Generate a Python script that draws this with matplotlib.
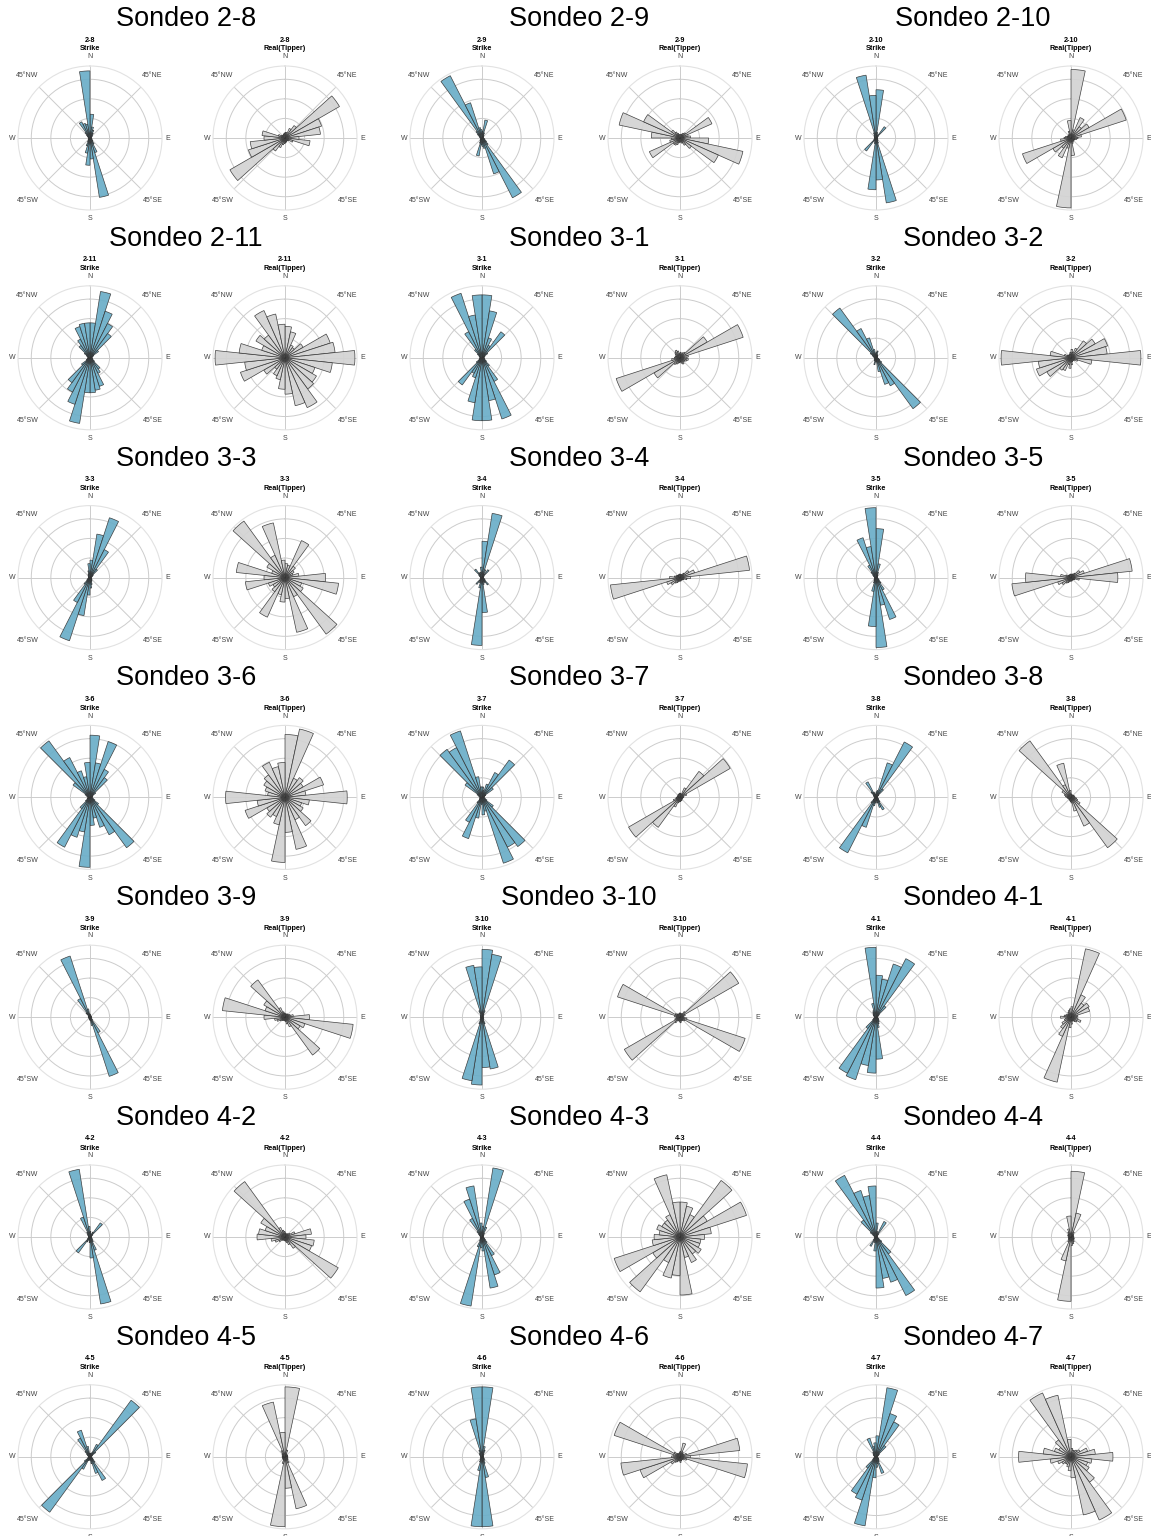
import numpy as np
import matplotlib
matplotlib.use("Agg")
import matplotlib.pyplot as plt

plt.rcParams['font.family'] = ['Liberation Sans', 'DejaVu Sans']

# ---------------- data ----------------
soundings = ["2-8", "2-9", "2-10", "2-11", "3-1", "3-2", "3-3", "3-4", "3-5",
             "3-6", "3-7", "3-8", "3-9", "3-10", "4-1", "4-2", "4-3", "4-4",
             "4-5", "4-6", "4-7"]
direction_angles = [0, 45, 90, 135, 180, 225, 270, 315]
direction_labels = ['N', '45°NE', 'E', '45°SE', 'S', '45°SW', 'W', '45°NW']

# Strike roses: 40 bins of 9 deg starting at N (relative length, outer circle ~1)
S_2_8 = [.34, .16, .12, .08, .05, .04, .03, .02, .02, .02,
         .02, .02, .03, .03, .04, .06, .10, .22, .86, .30,
         .39, .22, .12, .06, .04, .03, .02, .02, .02, .02,
         .02, .02, .03, .04, .06, .10, .26, .22, .20, .96]
S_2_9 = [.10, .26, .08, .05, .04, .03, .02, .02, .02, .02,
         .02, .03, .04, .05, .08, .12, .96, .54, .15, .12,
         .10, .26, .08, .05, .04, .03, .02, .02, .02, .02,
         .02, .03, .04, .05, .08, .12, 1.0, .53, .15, .12]
S_2_10 = [.69, .08, .05, .04, .20, .04, .03, .02, .02, .02,
          .02, .02, .02, .03, .03, .04, .05, .08, .94, .60,
          .74, .08, .05, .04, .23, .04, .03, .02, .02, .02,
          .02, .02, .02, .03, .03, .04, .05, .08, .91, .61]
S_2_11 = [.50, .96, .70, .55, .43, .15, .06, .04, .03, .03,
          .03, .03, .04, .05, .08, .20, .25, .43, .47, .50,
          .50, .95, .70, .55, .44, .15, .06, .04, .03, .03,
          .03, .03, .04, .06, .10, .22, .30, .47, .50, .50]
S_3_1 = [.90, .68, .30, .20, .46, .10, .05, .04, .03, .03,
         .03, .03, .04, .05, .08, .15, .38, .92, .62, .90,
         .90, .65, .30, .25, .48, .10, .05, .04, .03, .03,
         .03, .03, .04, .05, .08, .15, .42, .97, .62, .90]
S_3_2 = [.08, .10, .05, .04, .03, .03, .02, .02, .02, .02,
         .02, .03, .04, .06, .10, .90, .45, .40, .20, .06,
         .06, .10, .05, .04, .03, .03, .02, .02, .02, .02,
         .02, .03, .04, .06, .10, .88, .47, .30, .12, .06]
S_3_3 = [.25, .63, .90, .45, .15, .06, .04, .03, .02, .02,
         .02, .02, .02, .03, .03, .04, .05, .06, .10, .15,
         .25, .55, .95, .40, .12, .06, .04, .03, .02, .02,
         .02, .02, .02, .03, .03, .04, .05, .06, .10, .20]
S_3_4 = [.52, .93, .12, .06, .14, .04, .03, .02, .02, .02,
         .02, .02, .03, .04, .06, .13, .08, .06, .10, .50,
         .97, .15, .08, .06, .12, .03, .02, .02, .02, .02,
         .02, .02, .03, .04, .06, .15, .08, .06, .08, .15]
S_3_5 = [.70, .20, .08, .05, .04, .03, .02, .02, .02, .02,
         .02, .02, .03, .04, .06, .10, .20, .63, .40, 1.0,
         .70, .20, .08, .05, .04, .03, .02, .02, .02, .02,
         .02, .02, .03, .04, .06, .10, .20, .60, .45, 1.0]
S_3_6 = [.89, .50, .84, .45, .35, .10, .05, .04, .03, .03,
         .03, .04, .05, .08, .15, .89, .60, .45, .30, .40,
         1.0, .50, .60, .80, .20, .08, .05, .04, .03, .03,
         .03, .04, .05, .08, .30, 1.0, .64, .40, .30, .50]
S_3_7 = [.15, .10, .20, .40, .66, .20, .06, .04, .03, .03,
         .03, .04, .05, .08, .20, .87, .80, .99, .20, .25,
         .10, .30, .62, .40, .10, .05, .04, .03, .03, .03,
         .03, .04, .05, .08, .30, .85, .80, 1.0, .30, .15]
S_3_8 = [.08, .10, .52, .89, .15, .05, .03, .02, .02, .02,
         .02, .02, .03, .04, .05, .08, .20, .15, .08, .05,
         .08, .12, .45, .89, .10, .05, .03, .02, .02, .02,
         .02, .02, .03, .04, .05, .10, .25, .08, .05, .05]
S_3_9 = [.04, .03, .03, .02, .02, .02, .02, .02, .02, .02,
         .02, .02, .02, .03, .03, .05, .25, .89, .12, .05,
         .04, .03, .03, .02, .02, .02, .02, .02, .02, .02,
         .02, .02, .02, .03, .03, .08, .30, .92, .12, .05]
S_3_10 = [.97, .91, .10, .05, .03, .02, .02, .02, .02, .02,
          .02, .02, .02, .02, .03, .03, .04, .10, .75, .72,
          .97, .92, .10, .05, .03, .02, .02, .02, .02, .02,
          .02, .02, .02, .02, .03, .03, .04, .10, .75, .72]
S_4_1 = [.60, .55, .80, .94, .20, .06, .04, .03, .02, .02,
         .02, .02, .03, .04, .05, .06, .08, .10, .15, .60,
         .80, .70, .94, .90, .20, .06, .04, .03, .02, .02,
         .02, .02, .03, .04, .05, .06, .08, .10, .20, 1.0]
S_4_2 = [.08, .05, .04, .08, .25, .05, .03, .02, .02, .02,
         .02, .02, .02, .03, .04, .05, .08, .20, .97, .30,
         .08, .05, .04, .08, .28, .05, .03, .02, .02, .02,
         .02, .02, .02, .03, .04, .05, .08, .30, .98, .15]
S_4_3 = [.15, 1.0, .15, .06, .04, .03, .02, .02, .02, .02,
         .02, .02, .03, .04, .06, .10, .30, .57, .74, .20,
         .15, 1.0, .15, .06, .04, .03, .02, .02, .02, .02,
         .02, .02, .03, .04, .06, .10, .30, .57, .74, .20]
S_4_4 = [.20, .08, .06, .25, .05, .03, .02, .02, .02, .02,
         .02, .02, .03, .05, .10, .30, .94, .68, .60, .73,
         .20, .08, .06, .15, .05, .03, .02, .02, .02, .02,
         .02, .02, .03, .05, .10, .30, .99, .70, .60, .73]
S_4_5 = [.05, .04, .06, .20, 1.0, .10, .04, .03, .02, .02,
         .02, .02, .03, .04, .06, .10, .38, .25, .10, .05,
         .05, .04, .06, .20, .98, .10, .04, .03, .02, .02,
         .02, .02, .03, .04, .06, .10, .30, .40, .15, .05]
S_4_6 = [1.0, .15, .10, .05, .03, .02, .02, .02, .02, .02,
         .02, .02, .02, .03, .04, .05, .06, .10, .30, 1.0,
         1.0, .20, .08, .05, .03, .02, .02, .02, .02, .02,
         .02, .02, .02, .03, .04, .05, .06, .10, .55, 1.0]
S_4_7 = [.30, 1.0, .65, .56, .20, .06, .04, .03, .02, .02,
         .02, .02, .03, .04, .05, .06, .08, .25, .10, .15,
         .30, 1.0, .65, .60, .20, .06, .04, .03, .02, .02,
         .02, .02, .03, .04, .05, .06, .08, .28, .15, .20]

# Real(Tipper) roses: 30 bins of 12 deg (relative length, outer circle ~1)
T_2_8 = [.08, .08, .15, .22, .90, .55, .51, .20, .36, .12, .06, .05, .05, .06, .07,
         .08, .10, .15, .23, .91, .55, .50, .30, .33, .10, .06, .05, .05, .06, .07]
T_2_9 = [.05, .06, .08, .10, .50, .12, .15, .41, .92, .60, .20, .12, .08, .06, .06,
         .07, .10, .12, .12, .48, .15, .12, .41, .89, .57, .15, .10, .07, .05, .05]
T_2_10 = [.98, .12, .32, .20, .30, .83, .15, .10, .08, .06, .05, .05, .06, .08, .25,
          1.0, .15, .31, .18, .30, .73, .15, .10, .08, .06, .05, .05, .06, .10, .25]
T_2_11 = [.45, .38, .20, .18, .30, .68, .72, 1.0, .68, .45, .52, .55, .78, .70, .52,
          .45, .32, .28, .20, .35, .67, .58, 1.0, .66, .35, .48, .40, .74, .64, .48]
T_3_1 = [.08, .06, .08, .10, .45, .95, .12, .10, .12, .10, .08, .07, .10, .08, .06,
         .07, .08, .10, .12, .43, .96, .12, .08, .07, .06, .08, .10, .12, .10, .06]
T_3_2 = [.12, .08, .15, .30, .40, .55, .52, 1.0, .30, .10, .06, .05, .05, .06, .10,
         .15, .10, .20, .22, .40, .52, .47, 1.0, .30, .10, .06, .05, .05, .06, .08]
T_3_3 = [.20, .18, .58, .20, .15, .12, .20, .58, .77, .25, .30, 1.0, .30, .80, .30,
         .35, .25, .62, .25, .20, .25, .57, .30, .70, .20, .30, 1.0, .35, .80, .25]
T_3_4 = [.05, .04, .05, .08, .15, .22, 1.0, .15, .10, .06, .05, .04, .04, .05, .05,
         .05, .06, .08, .10, .15, .20, 1.0, .15, .08, .06, .05, .04, .04, .05, .05]
T_3_5 = [.05, .05, .06, .08, .15, .20, .88, .67, .12, .06, .05, .04, .04, .05, .05,
         .05, .06, .08, .10, .15, .20, .85, .65, .15, .08, .05, .04, .04, .05, .05]
T_3_6 = [.90, 1.0, .30, .35, .30, .58, .30, .89, .35, .25, .30, .50, .35, .76, .50,
         .93, .40, .30, .35, .30, .60, .40, .85, .25, .30, .35, .40, .55, .45, .50]
T_3_7 = [.06, .05, .15, .46, .83, .10, .05, .05, .04, .04, .04, .04, .05, .05, .06,
         .06, .08, .15, .53, .85, .10, .06, .05, .04, .04, .04, .04, .05, .05, .06]
T_3_8 = [.05, .04, .04, .04, .05, .05, .05, .06, .08, .10, .15, .89, .45, .20, .08,
         .06, .05, .04, .04, .04, .04, .05, .06, .08, .10, .15, 1.0, .20, .50, .10]
T_3_9 = [.05, .05, .05, .06, .06, .08, .12, .35, .98, .30, .25, .67, .15, .10, .06,
         .05, .05, .05, .06, .08, .12, .15, .30, .90, .30, .35, .66, .15, .08, .06]
T_3_10 = [.06, .05, .06, .10, .97, .08, .05, .06, .10, .98, .08, .06, .05, .06, .08,
          .06, .05, .06, .10, .92, .08, .06, .05, .08, .94, .08, .06, .05, .05, .06]
T_4_1 = [.15, 1.0, .35, .25, .30, .28, .10, .08, .10, .15, .10, .08, .06, .06, .10,
         .15, .95, .30, .20, .15, .10, .08, .15, .10, .08, .06, .06, .08, .10, .12]
T_4_2 = [.06, .05, .05, .06, .08, .15, .38, .30, .42, .40, .88, .20, .12, .08, .06,
         .05, .05, .05, .06, .10, .15, .20, .40, .38, .30, .40, .98, .15, .10, .08]
T_4_3 = [.50, .45, .35, 1.0, .45, 1.0, .45, .35, .30, .30, .35, .30, .40, .30, .83,
         .55, .60, .40, .97, .45, .99, .40, .37, .30, .35, .30, .30, .35, .91, .50]
T_4_4 = [.94, .35, .08, .05, .04, .04, .04, .04, .04, .05, .05, .06, .08, .10, .12,
         .92, .35, .08, .05, .04, .04, .04, .04, .04, .05, .05, .06, .08, .12, .30]
T_4_5 = [1.0, .10, .05, .04, .04, .04, .04, .04, .04, .04, .05, .06, .10, .76, .45,
         1.0, .10, .05, .04, .04, .04, .04, .04, .04, .04, .05, .06, .10, .80, .35]
T_4_6 = [.08, .20, .08, .06, .06, .10, .86, .15, .97, .10, .06, .05, .05, .06, .08,
         .06, .06, .08, .10, .15, .60, .85, .12, .10, .99, .10, .06, .05, .05, .06]
T_4_7 = [.12, .10, .10, .12, .15, .25, .35, .60, .30, .25, .30, .45, .99, .85, .30,
         .20, .15, .12, .12, .15, .20, .30, .75, .40, .25, .20, .30, 1.0, .90, .25]

strike = {"2-8": S_2_8, "2-9": S_2_9, "2-10": S_2_10, "2-11": S_2_11,
          "3-1": S_3_1, "3-2": S_3_2, "3-3": S_3_3, "3-4": S_3_4, "3-5": S_3_5,
          "3-6": S_3_6, "3-7": S_3_7, "3-8": S_3_8, "3-9": S_3_9, "3-10": S_3_10,
          "4-1": S_4_1, "4-2": S_4_2, "4-3": S_4_3, "4-4": S_4_4, "4-5": S_4_5,
          "4-6": S_4_6, "4-7": S_4_7}
tipper = {"2-8": T_2_8, "2-9": T_2_9, "2-10": T_2_10, "2-11": T_2_11,
          "3-1": T_3_1, "3-2": T_3_2, "3-3": T_3_3, "3-4": T_3_4, "3-5": T_3_5,
          "3-6": T_3_6, "3-7": T_3_7, "3-8": T_3_8, "3-9": T_3_9, "3-10": T_3_10,
          "4-1": T_4_1, "4-2": T_4_2, "4-3": T_4_3, "4-4": T_4_4, "4-5": T_4_5,
          "4-6": T_4_6, "4-7": T_4_7}
# first bin edge (degrees) of each tipper histogram
tipper_bin_start = {"2-9": 6.0}

# ---------------- layout ----------------
W, H = 1151, 1536
fig = plt.figure(figsize=(W / 100, H / 100), dpi=100)
fig.patch.set_facecolor('white')

col_strike_x = [90, 482, 876]
col_tipper_x = [285, 680, 1071]
col_title_x = [186, 579, 973]
row_y0, row_dy = 138, 219.8
R = 72
RMAX = 1.03

BLUE = '#6aaec8'
GREY = '#d3d3d3'
# label radius (in units of the outer circle) for N, 45°, E, ... labels
label_r = {0: 1.13, 45: 1.23, 90: 1.08, 135: 1.23, 180: 1.12, 225: 1.23, 270: 1.08, 315: 1.23}


def add_rose(cx, cy, values, face, name, kind, start_deg=0.0):
    ax = fig.add_axes([(cx - R) / W, 1 - (cy + R) / H, 2 * R / W, 2 * R / H],
                      projection='polar')
    n = len(values)
    width = 2 * np.pi / n
    theta = np.deg2rad(start_deg) + width * (np.arange(n) + 0.5)
    ax.set_theta_zero_location('N')
    ax.set_theta_direction(-1)
    ax.set_axisbelow(True)
    ax.bar(theta, values, width=width, bottom=0, color=face, alpha=0.92,
           edgecolor='#333333', linewidth=0.5, zorder=2)
    ax.set_ylim(0, RMAX)
    ax.set_yticks([0.28, 0.56, 0.84])
    ax.set_yticklabels([])
    ax.set_xticks(np.deg2rad(direction_angles))
    ax.set_xticklabels([])
    ax.tick_params(axis='both', length=0)
    ax.grid(color='#cccccc', linewidth=0.7)
    ax.spines['polar'].set_color('#e2e2e2')
    ax.spines['polar'].set_linewidth(0.8)
    for ang, lab in zip(direction_angles, direction_labels):
        ax.text(np.deg2rad(ang), label_r[ang] * RMAX, lab, ha='center', va='center',
                fontsize=5, color='#444444', clip_on=False)
    fig.text(cx / W, 1 - (cy - 98) / H, name, ha='center', va='center',
             fontsize=5.2, fontweight='bold')
    fig.text(cx / W, 1 - (cy - 89) / H, kind, ha='center', va='center',
             fontsize=5.2, fontweight='bold')
    return ax


for i, name in enumerate(soundings):
    r, c = divmod(i, 3)
    cy = row_y0 + row_dy * r
    fig.text(col_title_x[c] / W, 1 - (cy - 119) / H, f"Sondeo {name}",
             ha='center', va='center', fontsize=19.5)
    add_rose(col_strike_x[c], cy, strike[name], BLUE, name, "Strike")
    add_rose(col_tipper_x[c], cy, tipper[name], GREY, name, "Real(Tipper)",
             tipper_bin_start.get(name, 0.0))

fig.savefig("out.png", dpi=100, facecolor='white')
